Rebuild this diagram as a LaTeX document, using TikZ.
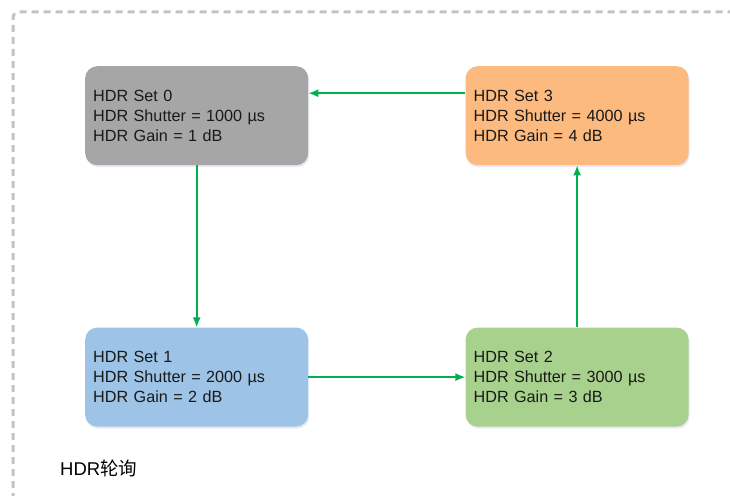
\documentclass[tikz,border=0pt]{standalone}
\usepackage{fontspec}
\setmainfont{Liberation Sans}
\newfontfamily\cjk{Noto Sans CJK SC}
\usepackage{xcolor}
\usetikzlibrary{arrows.meta,positioning,shadows}
\definecolor{hgray}{HTML}{A6A6A6}
\definecolor{horange}{HTML}{FDBA7F}
\definecolor{hblue}{HTML}{9DC3E6}
\definecolor{hgreen}{HTML}{A9D18E}
\definecolor{hlink}{HTML}{00B050}
\definecolor{hframe}{HTML}{C3C3C3}

\begin{document}
\begin{tikzpicture}[
  x=1pt,y=-1pt,
  font=\fontsize{16.2}{19.8}\selectfont,
  hs/.style={rounded corners=12pt,minimum width=223pt,minimum height=99pt,
             text width=207pt,inner xsep=8pt,align=left,text=black!90,
             drop shadow={shadow xshift=1pt,shadow yshift=-2pt,opacity=0.12,fill=blue!40!gray}},
  a/.style={-{Latex[length=10pt,width=8pt]},draw=hlink,line width=1.6pt}
]
\useasboundingbox (0,0) rectangle (730,495);
% dashed frame, runs off the right and bottom edge
\draw[hframe,line width=3pt,dash pattern=on 7pt off 5pt]
  (13,500) -- (13,18) arc[start angle=180,end angle=90,radius=6pt] -- (740,12);

\node[hs,fill=hgray,anchor=north west] (s0) at (85,66)
  {HDR Set 0\\HDR Shutter = 1000 µs\\HDR Gain = 1 dB};
\node[hs,fill=horange,right=157pt of s0] (s3)
  {HDR Set 3\\HDR Shutter = 4000 µs\\HDR Gain = 4 dB};
\node[hs,fill=hblue,below=162pt of s0] (s1)
  {HDR Set 1\\HDR Shutter = 2000 µs\\HDR Gain = 2 dB};
\node[hs,fill=hgreen,below=162pt of s3] (s2)
  {HDR Set 2\\HDR Shutter = 3000 µs\\HDR Gain = 3 dB};

\draw[a] ([yshift=22.5pt]s3.west) -- ([yshift=22.5pt]s0.east);
\foreach \p/\q in {s0/s1, s1/s2, s2/s3}
  {\draw[a] (\p) -- (\q);}

\node[anchor=base west,inner sep=0pt,font=\fontsize{18.5}{22}\selectfont] (cap) at (60,475) {HDR{\cjk 轮询}};
\end{tikzpicture}
\end{document}
